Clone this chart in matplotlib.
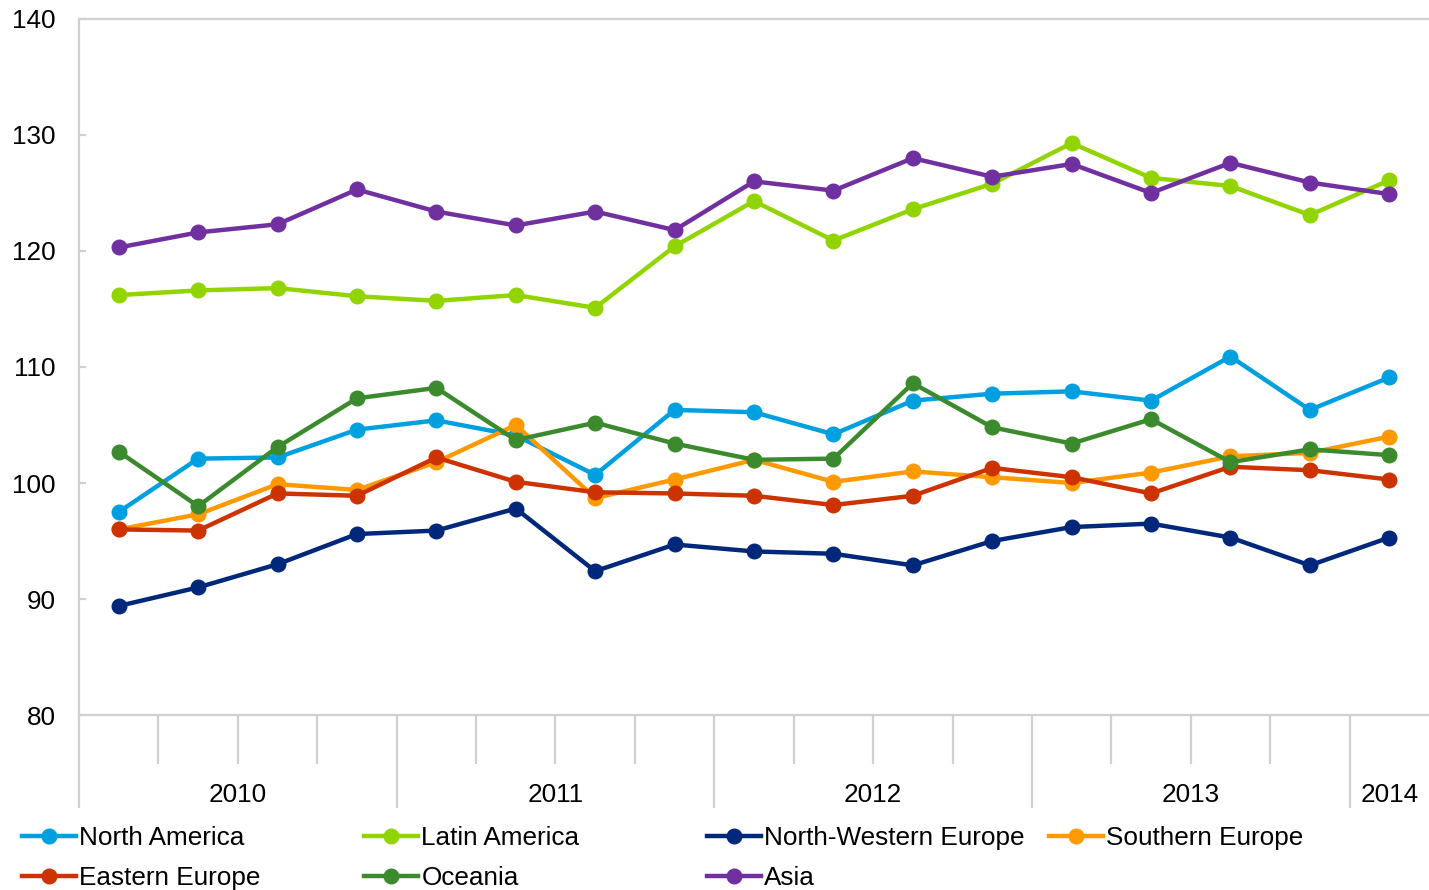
import numpy as np
import matplotlib.pyplot as plt

plt.rcParams['font.family'] = ['Liberation Sans', 'DejaVu Sans']

# quarterly index values, 2010 Q1 .. 2014 Q1
north_america = [97.5, 102.1, 102.2, 104.6, 105.4, 104.1, 100.7, 106.3, 106.1, 104.2,
                 107.1, 107.7, 107.9, 107.1, 110.9, 106.3, 109.1]
latin_america = [116.2, 116.6, 116.8, 116.1, 115.7, 116.2, 115.1, 120.4, 124.3, 120.9,
                 123.6, 125.8, 129.3, 126.3, 125.6, 123.1, 126.1]
nw_europe = [89.4, 91.0, 93.0, 95.6, 95.9, 97.8, 92.4, 94.7, 94.1, 93.9,
             92.9, 95.0, 96.2, 96.5, 95.3, 92.9, 95.3]
south_europe = [96.0, 97.3, 99.9, 99.4, 101.8, 105.0, 98.7, 100.3, 102.0, 100.1,
                101.0, 100.5, 100.0, 100.9, 102.3, 102.6, 104.0]
east_europe = [96.0, 95.9, 99.1, 98.9, 102.2, 100.1, 99.2, 99.1, 98.9, 98.1,
               98.9, 101.3, 100.5, 99.1, 101.4, 101.1, 100.3]
oceania = [102.7, 98.0, 103.1, 107.3, 108.2, 103.7, 105.2, 103.4, 102.0, 102.1,
           108.6, 104.8, 103.4, 105.5, 101.8, 102.9, 102.4]
asia = [120.3, 121.6, 122.3, 125.3, 123.4, 122.2, 123.4, 121.8, 126.0, 125.2,
        128.0, 126.4, 127.5, 125.0, 127.6, 125.9, 124.9]

names = ['North America', 'Latin America', 'North-Western Europe', 'Southern Europe',
         'Eastern Europe', 'Oceania', 'Asia']
series = [north_america, latin_america, nw_europe, south_europe, east_europe, oceania, asia]
colors = ['#00A0E0', '#92D400', '#00287A', '#FF9900', '#CC3300', '#3C8A2E', '#7030A0']

years = ['2010', '2011', '2012', '2013', '2014']
year_pos = [1.5, 5.5, 9.5, 13.5, 16]

x = np.arange(len(asia))
fs = 18.8

fig = plt.figure(figsize=(14.29, 8.9), dpi=100)
ax = fig.add_axes([0.0553, 0.1966, 0.9447, 0.7821])

lines = []
for name, vals, c in zip(names, series, colors):
    ln, = ax.plot(x, vals, '-o', color=c, lw=3.2, ms=10.5, label=name)
    lines.append(ln)

ax.set_xlim(-0.5, 16.5)
ax.set_ylim(80, 140)
ax.set_yticks(range(80, 141, 10))

grey = '#D0D0D0'
for s in ['left', 'bottom', 'top']:
    ax.spines[s].set_color(grey)
    ax.spines[s].set_linewidth(1.6)
ax.spines['right'].set_visible(False)

# year boundaries long ticks, quarter boundaries short ones
ax.set_xticks([-0.5, 3.5, 7.5, 11.5, 15.5])
ax.set_xticks([k + 0.5 for k in range(16) if (k + 1) % 4 != 0], minor=True)
ax.tick_params(axis='x', which='major', length=67, width=1.6, color=grey, labelbottom=False)
ax.tick_params(axis='x', which='minor', length=35, width=1.6, color=grey)
ax.tick_params(axis='y', direction='in', length=5, width=1.6, color=grey,
               labelsize=fs, pad=17)

for yr, p in zip(years, year_pos):
    ax.text(p, -0.115, yr, transform=ax.get_xaxis_transform(), ha='center', va='center',
            fontsize=fs)

# legend laid out in four columns
cols = [[0, 4], [1, 5], [2, 6], [3]]
col_x = [22, 364, 707, 1049]
for idx, cx in zip(cols, col_x):
    fig.legend([lines[i] for i in idx], [names[i] for i in idx],
               loc='upper left', bbox_to_anchor=(cx / 1429, 1 - 826 / 890),
               frameon=False, fontsize=fs, handlelength=2.05, handletextpad=0.15,
               borderpad=0, borderaxespad=0, labelspacing=0.62)

fig.savefig('out.png', dpi=100)
